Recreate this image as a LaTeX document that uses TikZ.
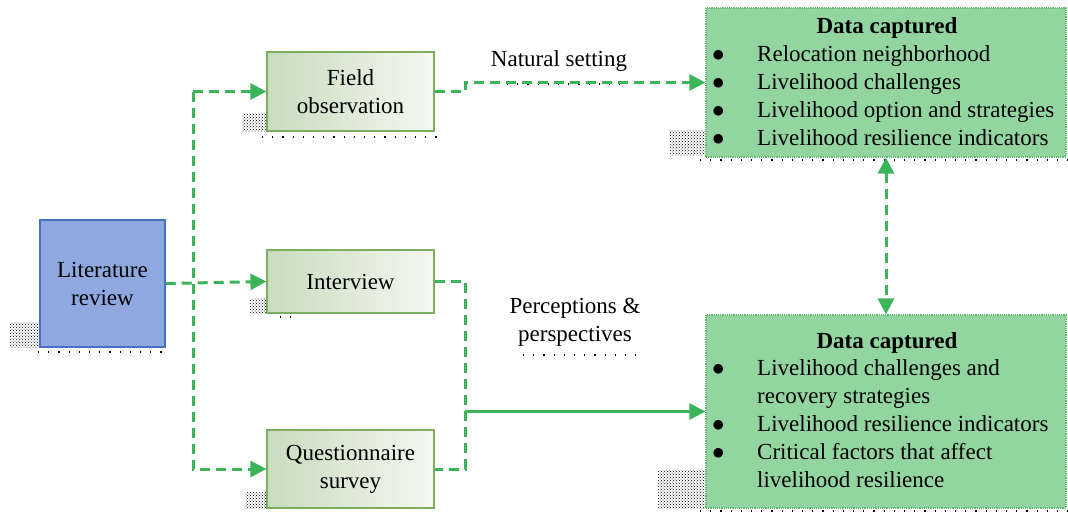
\documentclass[tikz,border=0pt]{standalone}
\usepackage{fontspec}
\setmainfont{Liberation Serif}
\usetikzlibrary{arrows.meta,patterns}
\definecolor{lnk}{RGB}{60,181,90}
\definecolor{litfill}{RGB}{143,168,224}
\definecolor{litdraw}{RGB}{72,112,196}
\definecolor{pdraw}{RGB}{125,174,94}
\definecolor{pleft}{RGB}{200,220,190}
\definecolor{pright}{RGB}{244,248,240}
\definecolor{dfill}{RGB}{146,213,160}
\definecolor{ddraw}{RGB}{95,185,110}
\newcommand{\bul}{$\bullet$}
\tikzset{
  x=1pt,y=-1pt,
  every node/.style={font=\fontsize{23}{28}\selectfont, align=center, inner sep=0pt},
  litbox/.style={draw=litdraw, line width=1.5pt, fill=litfill, minimum width=125pt, minimum height=127pt},
  procbox/.style={draw=pdraw, line width=1.2pt, left color=pleft, right color=pright, minimum width=167pt},
  databox/.style={draw=ddraw, line width=1.2pt, densely dotted, fill=dfill, minimum width=360pt},
  dl/.style={draw=lnk, line width=3pt, dash pattern=on 10pt off 6pt},
  sl/.style={draw=lnk, line width=3pt},
  tip/.style={-{Triangle[length=16pt,width=16pt]}},
  shd/.style={pattern=crosshatch dots, pattern color=black},
  dotln/.style={draw=black, line width=1.2pt, dash pattern=on 1.2pt off 9pt},
}
\begin{document}
\begin{tikzpicture}
\useasboundingbox (0,0) rectangle (1068,512);
% shadows
\fill[shd] (10,322) rectangle (40,347);
\draw[dotln] (38,352) -- (165,352);
\fill[shd] (242,113) rectangle (267,131);
\draw[dotln] (262,137) -- (438,137);
\fill[shd] (250,298) rectangle (267,313);
\draw[dotln] (280,317) -- (300,317);
\fill[shd] (245,492) rectangle (267,508);
\fill[shd] (670,130) rectangle (706,155);
\draw[dotln] (700,160) -- (1068,160);
\fill[shd] (658,470) rectangle (706,508);
\draw[dotln] (700,511) -- (1068,511);
\draw[dotln] (507,84) -- (625,84);
\draw[dotln] (523,355) -- (640,355);
% boxes
\node[litbox] (lit) at (102.5,283.5) {Literature\\review};
\node[procbox, minimum height=79pt] (field) at (350.5,91.5) {Field\\observation};
\node[procbox, minimum height=63pt] (inter) at (350.5,281.5) {Interview};
\node[procbox, minimum height=78pt] (quest) at (350.5,469) {Questionnaire\\survey};
\node[databox, minimum height=149pt] (dtop) at (886,82.5) {};
\node[databox, minimum height=193pt] (dbot) at (886,411.5) {};
% data box texts
\node[font=\fontsize{23}{28}\selectfont\bfseries] (t1) at (887,28) {Data captured};
\node[anchor=north west, align=left] (l1) at (712,42) {%
\begin{tabular}{@{}p{45pt}@{}l@{}}
\bul & Relocation neighborhood\\
\bul & Livelihood challenges\\
\bul & Livelihood option and strategies\\
\bul & Livelihood resilience indicators
\end{tabular}};
\node[font=\fontsize{23}{28}\selectfont\bfseries] (t2) at (887,343) {Data captured};
\node[anchor=north west, align=left] (l2) at (712,356) {%
\begin{tabular}{@{}p{45pt}@{}l@{}}
\bul & Livelihood challenges and\\
 & recovery strategies\\
\bul & Livelihood resilience indicators\\
\bul & Critical factors that affect\\
 & livelihood resilience
\end{tabular}};
% labels
\node (nat) at (559,61) {Natural setting};
\node (perc) at (575,322) {Perceptions \&\\perspectives};
% connectors
\coordinate (trtop) at (193,91.5);
\coordinate (trbot) at (193,469);
\draw[dl,tip] (lit.east) -- (inter.west);
\draw[dl,tip] (trtop) -- (field.west);
\draw[dl,tip] (trtop) -- (trbot) -- (quest.west);
\coordinate (fo) at (465,91.5);
\draw[dl,tip] (field.east) -- (fo) |- (dtop.west);
\coordinate (io) at (465,281.5);
\draw[dl] (inter.east) -- (io) |- (quest.east);
\coordinate (mid) at (465,411.5);
\draw[sl,tip] (mid) -- (dbot.west);
\draw[dl,{Triangle[length=16pt,width=16pt]}-{Triangle[length=16pt,width=16pt]}] (dtop.south) -- (dbot.north);
\end{tikzpicture}
\end{document}
